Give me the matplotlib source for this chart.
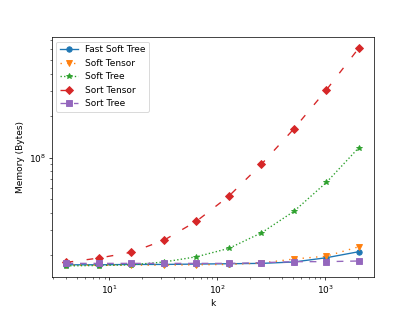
import numpy as np
import matplotlib
matplotlib.use("Agg")
from matplotlib import pyplot as plt

k = [4, 8, 16, 32, 64, 128, 256, 512, 1024, 2048]

fast_soft_tree = [1.69e7, 1.69e7, 1.70e7, 1.70e7, 1.71e7, 1.72e7, 1.73e7, 1.77e7, 1.90e7, 2.10e7]
soft_tensor = [1.68e7, 1.68e7, 1.68e7, 1.68e7, 1.69e7, 1.70e7, 1.74e7, 1.86e7, 1.95e7, 2.28e7]
soft_tree = [1.66e7, 1.67e7, 1.69e7, 1.77e7, 1.93e7, 2.22e7, 2.87e7, 4.10e7, 6.62e7, 1.18e8]
sort_tensor = [1.76e7, 1.89e7, 2.08e7, 2.54e7, 3.48e7, 5.28e7, 8.95e7, 1.61e8, 3.07e8, 6.15e8]
sort_tree = [1.73e7, 1.73e7, 1.73e7, 1.73e7, 1.73e7, 1.73e7, 1.75e7, 1.78e7, 1.78e7, 1.80e7]

fig = plt.figure(figsize=(6.4, 4.8), dpi=415 / 6.4)

plt.plot(k, fast_soft_tree, marker="o", linestyle="-", label="Fast Soft Tree")
plt.plot(k, soft_tensor, marker="v", linestyle=(0, (1, 4)), label="Soft Tensor")
plt.plot(k, soft_tree, marker="*", linestyle=":", label="Soft Tree")
plt.plot(k, sort_tensor, marker="D", linestyle=(0, (5, 10)), label="Sort Tensor")
plt.plot(k, sort_tree, marker="s", linestyle=(0, (5, 5)), label="Sort Tree")

plt.xscale("log")
plt.yscale("log")
plt.xlabel("k")
plt.ylabel("Memory (Bytes)")
plt.legend(loc="upper left")

plt.savefig("out.png", dpi=415 / 6.4)
